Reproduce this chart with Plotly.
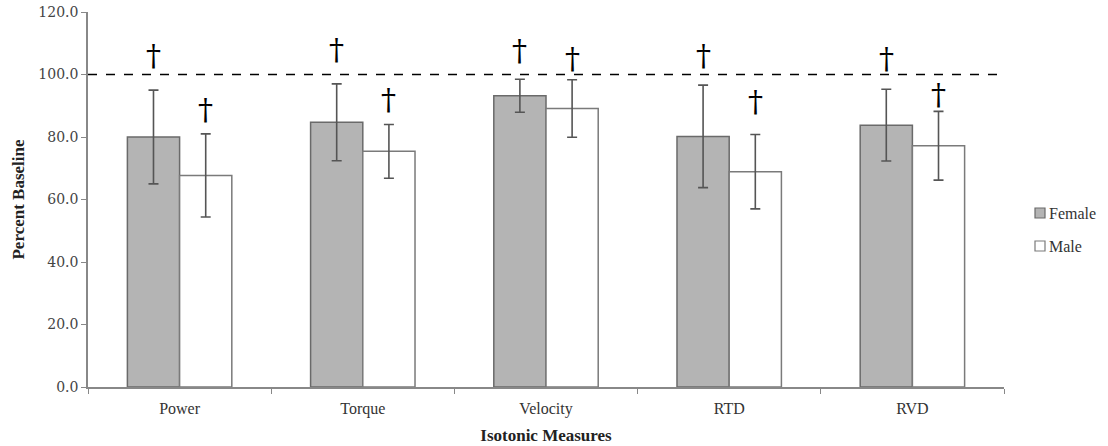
import plotly.graph_objects as go

categories = ["Power", "Torque", "Velocity", "RTD", "RVD"]
female = [80.0, 84.7, 93.2, 80.2, 83.8]
female_err = [15.0, 12.3, 5.3, 16.4, 11.5]
male = [67.7, 75.4, 89.1, 68.9, 77.2]
male_err = [13.3, 8.6, 9.2, 11.9, 11.0]
# height (in % baseline) at which each significance dagger is drawn
dagger_female = [106.0, 108.0, 107.6, 106.0, 105.0]
dagger_male = [88.7, 92.0, 105.0, 91.3, 93.7]
baseline = 100.0

BARGAP = 0.43
serif = "Liberation Serif"
F_COLOR, F_LINE = "#b4b4b4", "#6a6a6a"
M_COLOR, M_LINE = "#ffffff", "#7a7a7a"

W, H = 1108, 446
# plot area in window coordinates
PL, PR, PT, PB = 88, 1004, 12, 387
L, T, R, B = PL, PT, W - PR, H - PB
pw, ph = PR - PL, PB - PT

fig = go.Figure()
fig.add_trace(go.Bar(
    name="Female", x=categories, y=female,
    marker=dict(color=F_COLOR, line=dict(color=F_LINE, width=1.5)),
    error_y=dict(type="data", array=female_err, color="#555555", thickness=1.6, width=5),
))
fig.add_trace(go.Bar(
    name="Male", x=categories, y=male,
    marker=dict(color=M_COLOR, line=dict(color=M_LINE, width=1.5)),
    error_y=dict(type="data", array=male_err, color="#555555", thickness=1.6, width=5),
))

fig.add_shape(type="line", xref="paper", x0=0, x1=1, yref="y", y0=baseline, y1=baseline,
              line=dict(color="black", width=1.5, dash="dash"))

half = (1 - BARGAP) / 4
for i, c in enumerate(categories):
    for yv, off in ((dagger_female[i], -half), (dagger_male[i], half)):
        fig.add_annotation(x=i + off, y=yv, xref="x", yref="y", text="†", showarrow=False,
                           font=dict(family="DejaVu Serif", size=30, color="black"),
                           xanchor="center", yanchor="middle")

# custom legend (positions in window pixels converted to paper coordinates)
def px(x):
    return (x - PL) / pw
def py(y):
    return (PB - y) / ph
for name, fc, lc, yc in (("Female", F_COLOR, F_LINE, 213), ("Male", M_COLOR, M_LINE, 246)):
    fig.add_shape(type="rect", xref="paper", yref="paper",
                  x0=px(1035), x1=px(1045), y0=py(yc + 5), y1=py(yc - 5),
                  fillcolor=fc, line=dict(color=lc, width=1.2))
    fig.add_annotation(xref="paper", yref="paper", x=px(1047), y=py(yc), text=name,
                       showarrow=False, xanchor="left", yanchor="middle",
                       font=dict(family=serif, size=16, color="#333333"))

fig.update_layout(
    width=W, height=H,
    margin=dict(l=L, r=R, t=T, b=B),
    paper_bgcolor="white", plot_bgcolor="white",
    barmode="group", bargap=BARGAP, bargroupgap=0,
    font=dict(family=serif, size=14, color="#333333"),
    showlegend=False,
    xaxis=dict(showline=True, linecolor="#888888", linewidth=1.5, automargin=False,
               ticks="outside", tickson="boundaries", ticklen=5, tickcolor="#888888",
               ticklabelstandoff=6,
               tickfont=dict(family=serif, size=16, color="#333333"),
               title=dict(text="<b>Isotonic Measures</b>", font=dict(family=serif, size=17, color="#222222"),
                          standoff=12)),
    yaxis=dict(range=[0, 120], dtick=20, tickformat=".1f", showgrid=False, zeroline=False,
               showline=True, linecolor="#888888", linewidth=1.5, automargin=False,
               ticks="outside", ticklen=5, tickcolor="#888888",
               tickfont=dict(family="DejaVu Serif", size=14, color="#444444"),
               title=dict(text="<b>Percent Baseline</b>", font=dict(family=serif, size=17, color="#222222"),
                          standoff=9)),
)

fig.write_html("out.html", config={"displayModeBar": False},
               post_script="document.body.style.margin='0px';document.body.style.overflow='hidden';")
